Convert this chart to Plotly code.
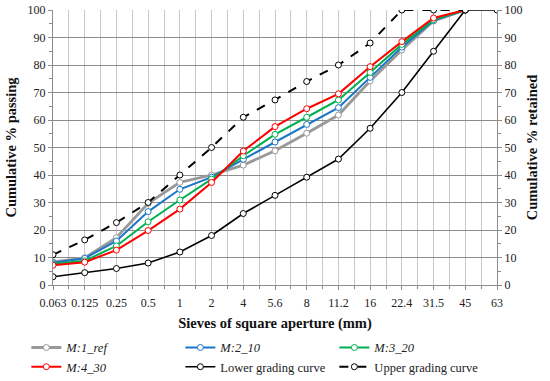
import plotly.graph_objects as go

sieves = ["0.063", "0.125", "0.25", "0.5", "1", "2", "4", "5.6", "8", "11.2", "16", "22.4", "31.5", "45", "63"]
m1_ref = [8.4, 9.9, 17.2, 29.7, 37.3, 40.0, 43.6, 48.8, 55.2, 61.8, 74.2, 85.5, 96.0, 100]
m2_10 = [8.1, 9.7, 16.0, 26.7, 34.8, 39.2, 45.7, 52.0, 58.4, 64.5, 75.5, 86.5, 96.2, 100]
m3_20 = [7.6, 8.8, 14.2, 23.0, 30.9, 38.5, 47.0, 54.8, 61.0, 67.3, 77.3, 87.5, 96.5, 100]
m4_30 = [7.2, 8.3, 12.7, 19.8, 27.6, 37.3, 48.7, 57.6, 64.1, 69.5, 79.4, 88.5, 97.1, 100]
lower = [3.0, 4.5, 6.0, 8.0, 12.0, 18.0, 26.0, 32.6, 39.2, 45.8, 57.0, 70.0, 85.0, 100, 100]
upper = [11.0, 16.4, 22.7, 30.0, 40.0, 50.0, 61.0, 67.3, 74.0, 80.0, 88.0, 100, 100, 100]

series = [
    ("<i>M:1_ref</i>", m1_ref, "#999999", "solid", 2.8),
    ("<i>M:2_10</i>", m2_10, "#1a75c9", "solid", 2),
    ("<i>M:3_20</i>", m3_20, "#00b050", "solid", 2),
    ("<i>M:4_30</i>", m4_30, "#ff0000", "solid", 2),
    ("Lower grading curve", lower, "#000000", "solid", 1.6),
    ("Upper grading curve", upper, "#000000", "dash", 2),
]

font_family = "Liberation Serif"
fig = go.Figure()
for name, vals, color, dash, w in series:
    fig.add_trace(go.Scatter(
        x=list(range(len(vals))), y=vals, name=name, mode="lines+markers",
        line=dict(color=color, width=w, dash=dash),
        marker=dict(symbol="circle", size=6, color="white", line=dict(color=color, width=1)),
    ))
# invisible trace to activate right axis
fig.add_trace(go.Scatter(x=[0], y=[0], yaxis="y2", showlegend=False, mode="markers",
                         marker=dict(opacity=0), hoverinfo="skip"))

title_font = dict(size=14.5, family=font_family, color="#111111")
fig.update_layout(
    width=550, height=381,
    margin=dict(l=53, r=53, t=10, b=96, autoexpand=False),
    paper_bgcolor="white", plot_bgcolor="white",
    font=dict(family=font_family, size=12, color="#222222"),
    xaxis=dict(
        range=[0, 14], tickmode="array", tickvals=list(range(len(sieves))), ticktext=sieves,
        showgrid=True, gridcolor="#c8c8c8", gridwidth=1,
        minor=dict(dtick=0.5, tick0=0, showgrid=True, gridcolor="#c8c8c8", gridwidth=1,
                   ticks="outside", ticklen=3, tickcolor="#8c8c8c"),
        ticks="outside", ticklen=4, tickcolor="#8c8c8c", ticklabelstandoff=3,
        showline=True, linecolor="#8c8c8c", linewidth=1, zeroline=False, automargin=False,
        title=dict(text="<b>Sieves of square aperture (mm)</b>", font=title_font, standoff=8),
        tickfont=dict(size=12),
    ),
    yaxis=dict(
        range=[0, 100], dtick=10, showgrid=True, gridcolor="#8c8c8c", gridwidth=1,
        ticks="outside", ticklen=4, tickcolor="#8c8c8c",
        minor=dict(dtick=5, ticks="outside", ticklen=3, tickcolor="#8c8c8c"),
        showline=True, linecolor="#8c8c8c", linewidth=1, zeroline=False, automargin=False,
        title=dict(text="<b>Cumulative % passing</b>", font=title_font, standoff=7),
        tickfont=dict(size=12),
    ),
    yaxis2=dict(
        range=[0, 100], dtick=10, overlaying="y", side="right", showgrid=False,
        ticks="outside", ticklen=4, tickcolor="#8c8c8c",
        minor=dict(dtick=5, ticks="outside", ticklen=3, tickcolor="#8c8c8c"),
        showline=True, linecolor="#8c8c8c", linewidth=1, zeroline=False, automargin=False,
        title=dict(text="<b>Cumulative % retained</b>", font=title_font, standoff=5),
        tickfont=dict(size=12),
    ),
    legend=dict(
        orientation="h", x=-0.060, xanchor="left", y=-0.174, yanchor="top",
        entrywidth=109, entrywidthmode="pixels", font=dict(size=12.5, family=font_family),
        itemwidth=30, tracegroupgap=0, bgcolor="rgba(0,0,0,0)",
    ),
    showlegend=True,
)

fig.write_html("out.html", config={"displayModeBar": False},
               post_script="document.body.style.margin='0';")
